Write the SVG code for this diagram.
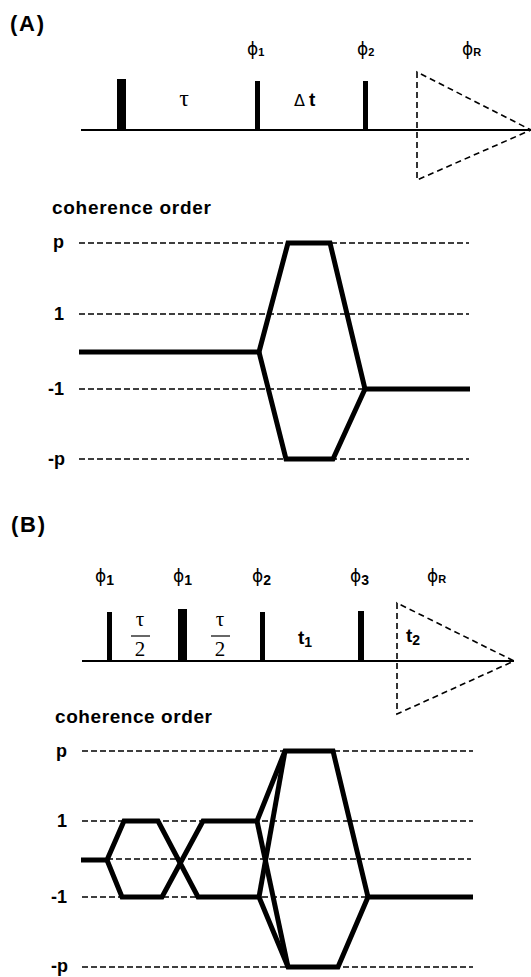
<svg xmlns="http://www.w3.org/2000/svg" width="531" height="977" viewBox="0 0 531 977">
<style>
.bg{fill:#fff}
.base{stroke:#000;stroke-width:2;fill:none}
.pulse{fill:#000}
.tri{fill:none;stroke:#000;stroke-width:1.6;stroke-dasharray:6 4}
.lvl{stroke:#000;stroke-width:1.5;stroke-dasharray:6 3;fill:none}
.path{fill:none;stroke:#000;stroke-width:5;stroke-linejoin:miter;stroke-miterlimit:3}
.hdr{font-family:"Liberation Sans",Arial,sans-serif;font-weight:bold;font-size:22px}
.co{font-family:"Liberation Sans",Arial,sans-serif;font-weight:bold;font-size:19px}
.lab{font-family:"Liberation Sans",Arial,sans-serif;font-weight:bold;font-size:18px;text-anchor:end}
.phi{font-family:"DejaVu Sans",sans-serif;font-size:17px}
.sub{font-family:"Liberation Sans",Arial,sans-serif;font-weight:bold;font-size:11px}
.subB{font-family:"Liberation Sans",Arial,sans-serif;font-weight:bold;font-size:14px}
.tau{font-family:"Liberation Serif","Times New Roman",serif;font-size:24px;text-anchor:middle}
.tauB{font-family:"Liberation Serif","Times New Roman",serif;font-size:21px;text-anchor:middle}
.t{font-family:"Liberation Sans",Arial,sans-serif;font-weight:bold;font-size:19px}
</style>
<rect class="bg" x="0" y="0" width="531" height="977"/>

<g id="panelA">
  <text id="labelA" class="hdr" x="10" y="31" textLength="34">(A)</text>
  <g id="A-sequence">
    <line class="base" x1="81" y1="130" x2="531" y2="130"/>
    <rect id="A-pulse1" class="pulse" x="117" y="79" width="9" height="51"/>
    <rect id="A-pulse2" class="pulse" x="255" y="81" width="5" height="49"/>
    <rect id="A-pulse3" class="pulse" x="363" y="81" width="5" height="49"/>
    <polygon id="A-acq" class="tri" points="417,72 417,180 531,130"/>
    <text class="phi" x="247" y="55">ϕ<tspan class="sub" dy="1">1</tspan></text>
    <text class="phi" x="357" y="55">ϕ<tspan class="sub" dy="1">2</tspan></text>
    <text class="phi" x="462" y="55">ϕ<tspan class="sub" dy="1">R</tspan></text>
    <text class="tau" x="184" y="106">τ</text>
    <text x="294" y="106"><tspan font-family="DejaVu Sans,sans-serif" font-size="16">Δ</tspan><tspan class="t" dx="4">t</tspan></text>
  </g>
  <g id="A-coherence">
    <text class="co" x="52" y="214" textLength="159">coherence order</text>
    <text class="lab" x="64" y="248">p</text>
    <text class="lab" x="64" y="320">1</text>
    <text class="lab" x="64" y="395">-1</text>
    <text class="lab" x="65" y="465">-p</text>
    <line class="lvl" x1="79" y1="243" x2="469" y2="243"/>
    <line class="lvl" x1="79" y1="314" x2="469" y2="314"/>
    <line class="lvl" x1="79" y1="389" x2="469" y2="389"/>
    <line class="lvl" x1="79" y1="459" x2="469" y2="459"/>
  </g>
  <g id="A-connectors">
    <path class="path" d="M79,352 H259 L288,243 H330 L365,389 H470"/>
    <path class="path" d="M259,352 L286,459 H333 L365,389"/>
  </g>
</g>

<g id="panelB">
  <text id="labelB" class="hdr" x="11" y="532" textLength="34">(B)</text>
  <g id="B-sequence">
    <line class="base" x1="82" y1="661" x2="514" y2="661"/>
    <rect id="B-pulse1" class="pulse" x="107" y="612" width="5" height="49"/>
    <rect id="B-pulse2" class="pulse" x="178" y="609" width="9" height="52"/>
    <rect id="B-pulse3" class="pulse" x="260" y="612" width="5" height="49"/>
    <rect id="B-pulse4" class="pulse" x="358" y="611" width="6" height="50"/>
    <polygon id="B-acq" class="tri" points="397,603 397,714 514,661"/>
    <text class="phi" x="95" y="582">ϕ<tspan class="subB" dy="3">1</tspan></text>
    <text class="phi" x="173" y="582">ϕ<tspan class="subB" dy="3">1</tspan></text>
    <text class="phi" x="252" y="582">ϕ<tspan class="subB" dy="3">2</tspan></text>
    <text class="phi" x="350" y="582">ϕ<tspan class="subB" dy="3">3</tspan></text>
    <text class="phi" x="427" y="582">ϕ<tspan class="sub" dy="1">R</tspan></text>
    <text class="tauB" x="140" y="626">τ</text>
    <line x1="131" y1="636" x2="150" y2="636" stroke="#000" stroke-width="1.2"/>
    <text class="tauB" x="140" y="656">2</text>
    <text class="tauB" x="220" y="626">τ</text>
    <line x1="211" y1="636" x2="230" y2="636" stroke="#000" stroke-width="1.2"/>
    <text class="tauB" x="220" y="656">2</text>
    <text class="t" x="298" y="644">t<tspan class="subB" dy="3">1</tspan></text>
    <text class="t" x="406" y="642">t<tspan class="subB" dy="3">2</tspan></text>
  </g>
  <g id="B-coherence">
    <text class="co" x="55" y="723" textLength="157">coherence order</text>
    <text class="lab" x="67" y="757">p</text>
    <text class="lab" x="67" y="827">1</text>
    <text class="lab" x="67" y="903">-1</text>
    <text class="lab" x="68" y="972">-p</text>
    <line class="lvl" x1="82" y1="751" x2="473" y2="751"/>
    <line class="lvl" x1="82" y1="821" x2="473" y2="821"/>
    <line class="lvl" x1="107" y1="859" x2="471" y2="859"/>
    <line class="lvl" x1="82" y1="897" x2="473" y2="897"/>
    <line class="lvl" x1="82" y1="967" x2="473" y2="967"/>
  </g>
  <g id="B-connectors">
    <path class="path" d="M81,860 H107 L124,821 H158 L198,897 H259 L288,967 H338 L368,897 H473"/>
    <path class="path" d="M107,860 L122,897 H162 L203,821 H257 L285,751 H333 L368,897"/>
    <path class="path" d="M257,821 L288,967"/>
    <path class="path" d="M259,897 L285,751"/>
  </g>
</g>
</svg>
